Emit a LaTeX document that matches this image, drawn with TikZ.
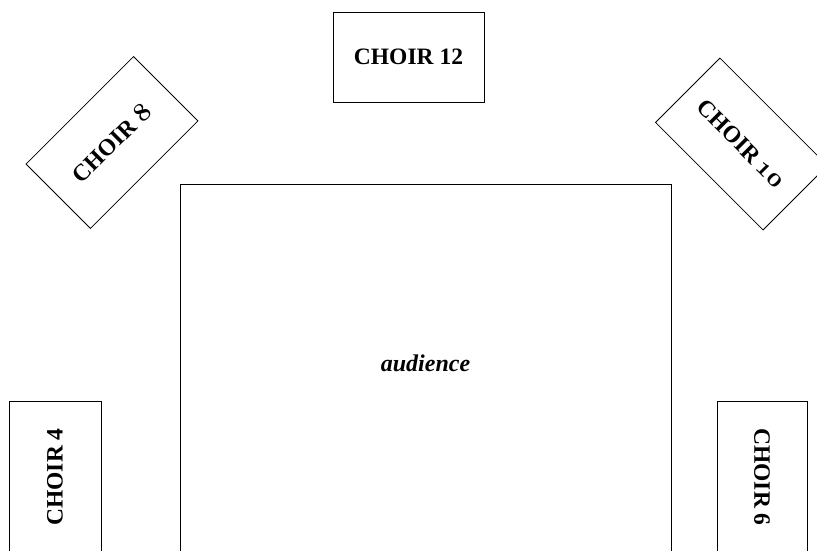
\documentclass[tikz,border=0pt]{standalone}
\usepackage{fontspec}
\setmainfont{Liberation Serif}
\newfontfamily\osfont{Latin Modern Roman}[Numbers=OldStyle,Scale=1.12]
\begin{document}
\begin{tikzpicture}[x=1pt,y=-1pt,
  choir/.style={draw,line width=0.8pt,minimum width=152pt,minimum height=91pt,
    inner sep=0pt,font=\fontsize{23.5}{26}\selectfont\bfseries},
  hall/.style={draw,line width=0.8pt},
  hallname/.style={font=\fontsize{24}{26}\selectfont\bfseries\itshape}]
\useasboundingbox (0,0) rectangle (817,550);
\clip (0,0) rectangle (817,550);
\node[choir,minimum width=151pt,minimum height=90pt] (c12) at (408.5,57) {CHOIR 12};
\node[choir,rotate=45] (c8) at (112,142.5) {CHOIR {\osfont\bfseries 8}};
\node[choir,rotate=-45] (c10) at (741.5,144) {CHOIR {\osfont\bfseries 10}};
\node[choir,rotate=90,minimum width=152pt,minimum height=92pt] (c4) at (55,477) {CHOIR 4};
\node[choir,rotate=-90,minimum width=152pt,minimum height=90pt] (c6) at (762,477) {CHOIR 6};
\node[hall,minimum width=491pt,minimum height=380pt,inner sep=0pt,anchor=north] (aud) at (425.5,184) {};
\node[hallname] (audl) at (425.5,363) {audience};
\end{tikzpicture}
\end{document}
